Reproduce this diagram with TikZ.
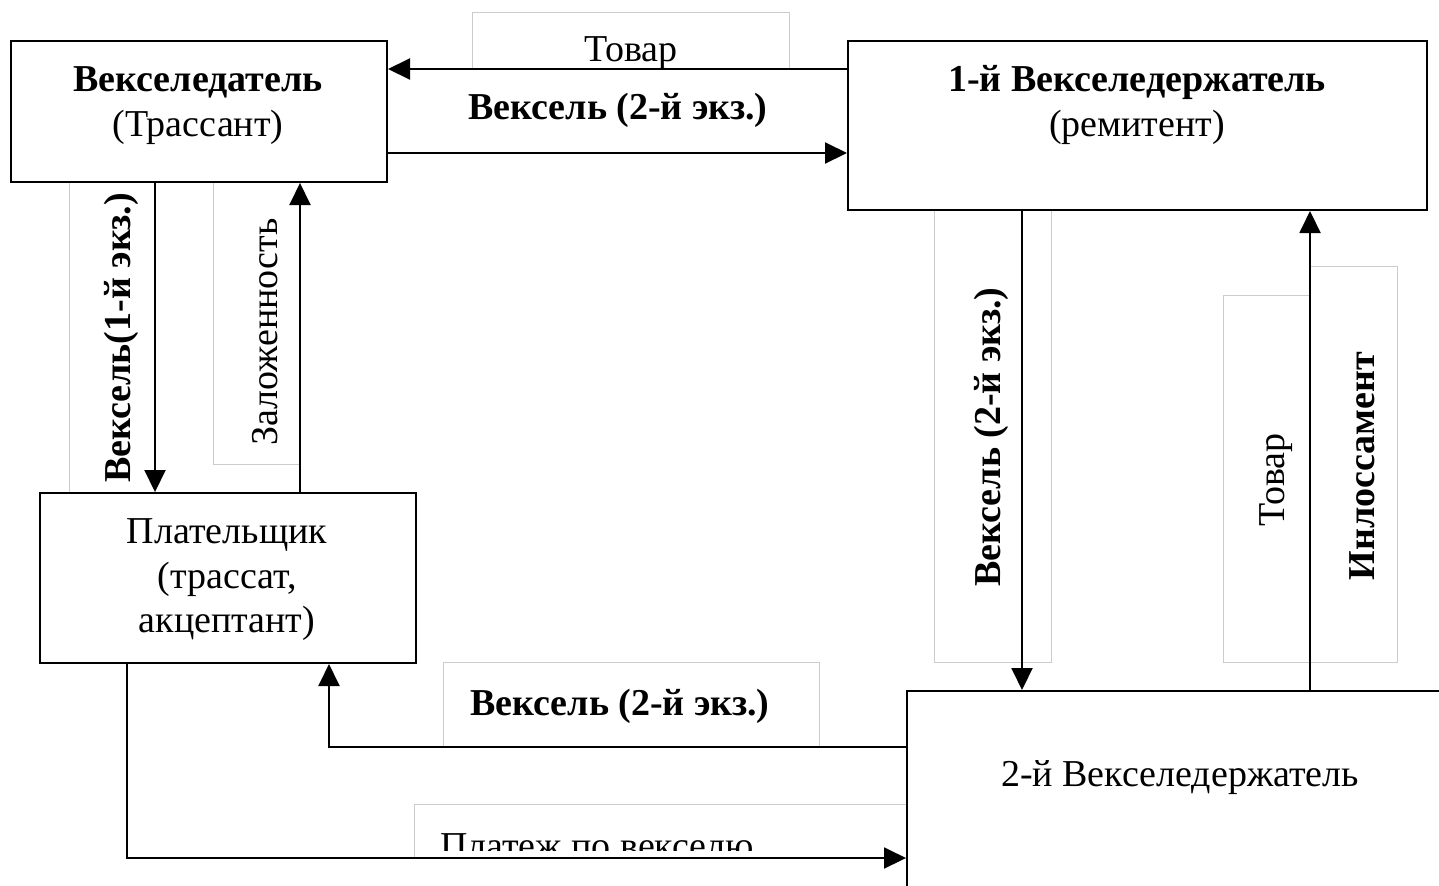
\documentclass[tikz,border=0pt]{standalone}
\usepackage{fontspec}
\setmainfont{Liberation Serif}
\usetikzlibrary{arrows.meta}
\begin{document}
\begin{tikzpicture}[x=0.5pt,y=-0.5pt,
  box/.style={draw,line width=1pt,inner sep=0pt,fill=white},
  lblbox/.style={draw=black!20,line width=0.5pt,fill=white},
  arr/.style={line width=1pt,-{Triangle[length=11pt,width=10.5pt]}},
  tx/.style={font=\fontsize{19}{23}\selectfont,inner sep=0pt},
  txb/.style={font=\fontsize{19}{23}\selectfont\bfseries,inner sep=0pt}]
\useasboundingbox (0,0) rectangle (1439,885);
\clip (0,0) rectangle (1439,885);
\fill[white] (0,0) rectangle (1439,885);
% label frames
\draw[lblbox] (472,12) rectangle (789,69);
\draw[lblbox] (69,182) rectangle (155,493);
\draw[lblbox] (213,182) rectangle (300,464);
\draw[lblbox] (934,210) rectangle (1051,662);
\draw[lblbox] (1223,295) rectangle (1310,662);
\draw[lblbox] (1310,266) rectangle (1397,662);
\draw[lblbox] (443,662) rectangle (819,747);
\draw[lblbox] (414,804) rectangle (907,858);
% boxes
\node[box,minimum width=188pt,minimum height=70.5pt] (A) at (199,111.5) {};
\node[box,minimum width=289.5pt,minimum height=84.5pt] (B) at (1137.5,125.5) {};
\node[box,minimum width=188pt,minimum height=85pt] (C) at (228,578) {};
\node[box,minimum width=296.5pt,minimum height=129.5pt] (D) at (1203.5,820.5) {};
% box texts
\node[txb] (tA1) at (198,82) {Векселедатель};
\node[tx] (tA2) at (198,127) {(Трассант)};
\node[txb] (tB1) at (1137,82) {1-й Векселедержатель};
\node[tx] (tB2) at (1137,127) {(ремитент)};
\node[tx] (tC1) at (227,535) {Плательщик};
\node[tx] (tC2) at (227,579) {(трассат,};
\node[tx] (tC3) at (227,623) {акцептант)};
\node[tx] (tD) at (1180,778) {2-й Векселедержатель};
% connectors
\draw[arr] (B.west |- 0,69) -- (A.east |- 0,69);
\draw[arr] (A.east |- 0,153) -- (B.west |- 0,153);
\draw[arr] (A.south -| 155,0) -- (C.north -| 155,0);
\draw[arr] (C.north -| 300,0) -- (A.south -| 300,0);
\draw[arr] (B.south -| 1022,0) -- (D.north -| 1022,0);
\draw[arr] (D.north -| 1310,0) -- (B.south -| 1310,0);
\draw[arr] (D.west |- 0,747) -| (C.south -| 329,0);
\draw[arr] (C.south -| 127,0) |- (D.west |- 0,858);
% labels
\node[tx] (l1) at (631,53) {Товар};
\node[txb] (l2) at (618,110) {Вексель (2-й экз.)};
\node[txb,rotate=90] (l3) at (121,338) {Вексель(1-й экз.)};
\node[tx,rotate=90] (l4) at (265,332) {Заложенность};
\node[txb,rotate=90] (l5) at (991,437) {Вексель (2-й экз.)};
\node[tx,rotate=90] (l6) at (1276,480) {Товар};
\node[txb,rotate=90] (l7) at (1362,466) {Инлоссамент};
\node[txb] (l8) at (620,706) {Вексель (2-й экз.)};
\begin{scope}
\clip (414,804) rectangle (907,850);
\node[tx,anchor=base] (l9) at (597,858) {Платеж по векселю};
\end{scope}
\end{tikzpicture}
\end{document}
